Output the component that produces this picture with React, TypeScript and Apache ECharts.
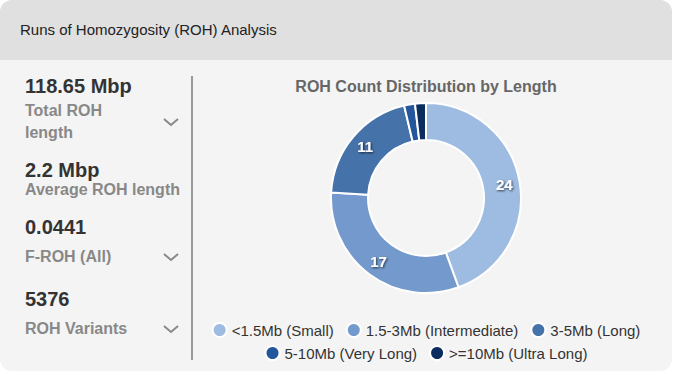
import React, { useEffect, useRef } from "react";
import * as echarts from "echarts";

const categories = [
  "<1.5Mb (Small)",
  "1.5-3Mb (Intermediate)",
  "3-5Mb (Long)",
  "5-10Mb (Very Long)",
  ">=10Mb (Ultra Long)",
];
const counts = [24, 17, 11, 1, 1];
const sliceColors = ["#9ebbe1", "#7499cc", "#4672aa", "#24569c", "#0b2c5e"];

const stats = [
  { value: "118.65 Mbp", label: ["Total ROH", "length"], chevron: true },
  { value: "2.2 Mbp", label: ["Average ROH length"], chevron: false },
  { value: "0.0441", label: ["F-ROH (All)"], chevron: true },
  { value: "5376", label: ["ROH Variants"], chevron: true },
];

const FONT = '"Liberation Sans", Arial, Helvetica, sans-serif';

function Chevron({ x, y }: { x: number; y: number }) {
  return (
    <svg
      width={18}
      height={12}
      style={{ position: "absolute", left: x - 9, top: y - 6 }}
    >
      <polyline
        points="2,3 9,9 16,3"
        fill="none"
        stroke="#888"
        strokeWidth={2}
      />
    </svg>
  );
}

export default function App() {
  const ref = useRef<HTMLDivElement>(null);

  useEffect(() => {
    if (!ref.current) return;
    const chart = echarts.init(ref.current, undefined, { renderer: "svg" });
    const legendBase = {
      left: "center",
      icon: "circle",
      itemWidth: 14,
      itemHeight: 14,
      itemGap: 12,
      textStyle: { fontFamily: FONT, fontSize: 15, color: "#333" },
    };
    chart.setOption({
      animation: false,
      title: {
        text: "ROH Count Distribution by Length",
        left: "center",
        top: 13,
        textStyle: {
          fontFamily: FONT,
          fontSize: 16,
          fontWeight: "bold",
          color: "#666",
        },
      },
      legend: [
        { ...legendBase, data: categories.slice(0, 3), top: 257 },
        { ...legendBase, data: categories.slice(3), top: 280 },
      ],
      series: [
        {
          type: "pie",
          center: [231, 138],
          radius: [58, 95],
          startAngle: 90,
          clockwise: true,
          minShowLabelAngle: 10,
          itemStyle: { borderColor: "#fff", borderWidth: 2 },
          label: {
            show: true,
            position: "inside",
            formatter: "{c}",
            fontFamily: FONT,
            fontSize: 15,
            fontWeight: "bold",
            color: "#fff",
            textShadowColor: "rgba(0,0,0,0.7)",
            textShadowBlur: 2,
            textShadowOffsetX: 1,
            textShadowOffsetY: 1,
          },
          labelLine: { show: false },
          emphasis: { disabled: true },
          data: categories.map((name, i) => ({
            name,
            value: counts[i],
            itemStyle: { color: sliceColors[i] },
          })),
        },
      ],
    });
    return () => chart.dispose();
  }, []);

  const valueTops = [86, 170, 227, 299];

  return (
    <div
      style={{
        position: "fixed",
        left: 0,
        top: 0,
        width: 679,
        height: 376,
        background: "#fff",
        fontFamily: FONT,
      }}
    >
      <div
        style={{
          position: "absolute",
          left: 0,
          top: 0,
          width: 672,
          height: 371,
          borderRadius: 12,
          background: "#f4f4f4",
          overflow: "hidden",
        }}
      >
        <div
          style={{
            position: "absolute",
            left: 0,
            top: 0,
            width: 672,
            height: 60,
            background: "#e0e0e0",
          }}
        />
        <div
          style={{
            position: "absolute",
            left: 20,
            top: 21,
            fontSize: 15,
            lineHeight: "18px",
            color: "#222",
            whiteSpace: "nowrap",
          }}
        >
          Runs of Homozygosity (ROH) Analysis
        </div>

        {/* left stats */}
        <div style={{ position: "absolute", left: 25, top: valueTops[0] - 11, fontSize: 20, fontWeight: "bold", color: "#333", lineHeight: "22px", whiteSpace: "nowrap" }}>{stats[0].value}</div>
        <div style={{ position: "absolute", left: 25, top: 100, fontSize: 16, fontWeight: "bold", color: "#888", lineHeight: "22px", whiteSpace: "nowrap" }}>{stats[0].label[0]}</div>
        <div style={{ position: "absolute", left: 25, top: 122, fontSize: 16, fontWeight: "bold", color: "#888", lineHeight: "22px", whiteSpace: "nowrap" }}>{stats[0].label[1]}</div>
        <Chevron x={171} y={122} />

        <div style={{ position: "absolute", left: 25, top: valueTops[1] - 11, fontSize: 20, fontWeight: "bold", color: "#333", lineHeight: "22px", whiteSpace: "nowrap" }}>{stats[1].value}</div>
        <div style={{ position: "absolute", left: 25, top: 179, fontSize: 16, fontWeight: "bold", color: "#888", lineHeight: "22px", whiteSpace: "nowrap" }}>{stats[1].label[0]}</div>

        <div style={{ position: "absolute", left: 25, top: valueTops[2] - 11, fontSize: 20, fontWeight: "bold", color: "#333", lineHeight: "22px", whiteSpace: "nowrap" }}>{stats[2].value}</div>
        <div style={{ position: "absolute", left: 25, top: 246, fontSize: 16, fontWeight: "bold", color: "#888", lineHeight: "22px", whiteSpace: "nowrap" }}>{stats[2].label[0]}</div>
        <Chevron x={171} y={257} />

        <div style={{ position: "absolute", left: 25, top: valueTops[3] - 11, fontSize: 20, fontWeight: "bold", color: "#333", lineHeight: "22px", whiteSpace: "nowrap" }}>{stats[3].value}</div>
        <div style={{ position: "absolute", left: 25, top: 318, fontSize: 16, fontWeight: "bold", color: "#888", lineHeight: "22px", whiteSpace: "nowrap" }}>{stats[3].label[0]}</div>
        <Chevron x={171} y={329} />

        {/* divider */}
        <div
          style={{
            position: "absolute",
            left: 191,
            top: 76,
            width: 2,
            height: 284,
            background: "#999",
          }}
        />

        <div
          ref={ref}
          style={{ position: "absolute", left: 195, top: 60, width: 462, height: 311 }}
        />
      </div>
    </div>
  );
}
